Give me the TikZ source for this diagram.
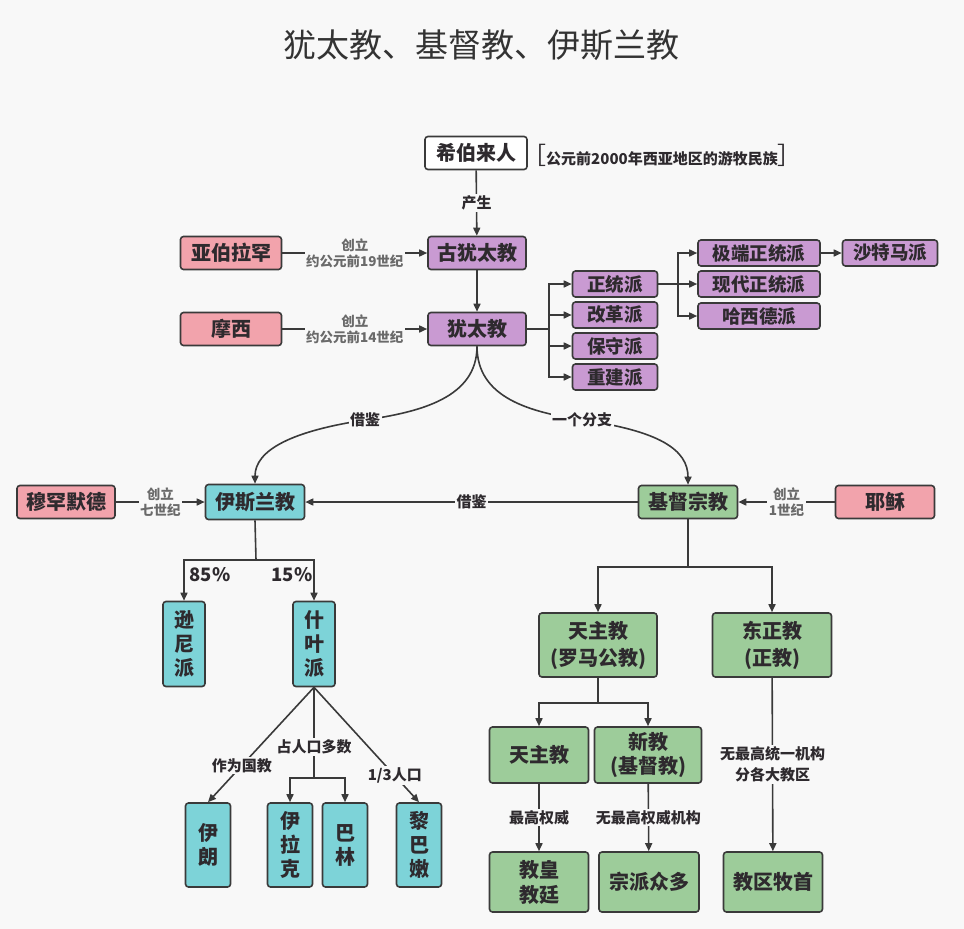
\documentclass[tikz,border=0pt]{standalone}
\usepackage{fontspec}
\setmainfont{Noto Sans CJK SC}
\usetikzlibrary{arrows.meta}
\definecolor{bg}{HTML}{F8F8F8}
\definecolor{pur}{HTML}{C99AD2}
\definecolor{pinkc}{HTML}{F2A3AC}
\definecolor{tealc}{HTML}{7DD3D8}
\definecolor{grn}{HTML}{9DCC9A}
\definecolor{edgec}{HTML}{3A3A3A}
\definecolor{txt}{HTML}{2E2A2E}
\definecolor{lbl}{HTML}{6A6A6A}
\tikzset{
  box/.style={draw=edgec, line width=1.6pt, rounded corners=3pt, text=txt, inner sep=0pt, align=center,
    font=\bfseries\fontsize{20}{24}\selectfont},
  sbox/.style={box, font=\bfseries\fontsize{18.5}{20}\selectfont, minimum height=26pt},
  vbox/.style={box, font=\bfseries\fontsize{20}{24}\selectfont},
  line/.style={draw=edgec, line width=1.6pt},
  conn/.style={line, -{Triangle[length=8pt,width=7pt]}},
  elab/.style={fill=bg, text=txt, inner sep=1.5pt, font=\bfseries\fontsize{15}{17}\selectfont, align=center},
  glab/.style={fill=bg, text=lbl, inner sep=1.5pt, font=\bfseries\fontsize{13.5}{16}\selectfont, align=center},
  pct/.style={text=txt, inner sep=0pt, font=\bfseries\fontsize{18.5}{20}\selectfont}
}
\begin{document}
\begin{tikzpicture}[x=1pt,y=-1pt]
\fill[bg] (0,0) rectangle (964,929);
\useasboundingbox (0,0) rectangle (964,929);

\node[text=black!80, font=\fontsize{33}{36}\selectfont] (title) at (481,45) {犹太教、基督教、伊斯兰教};

% Judaism part
\node[box, fill=white, minimum width=102pt, minimum height=33pt] (heb) at (476,153) {希伯来人};
\node[text=txt, inner sep=0pt, font=\bfseries\fontsize{15}{17}\selectfont] (note) at (662,155) {{\mdseries\fontsize{24}{24}\selectfont［}公元前2000年西亚地区的游牧民族{\mdseries\fontsize{24}{24}\selectfont］}};
\node[box, fill=pur, minimum width=98pt, minimum height=33pt] (gu) at (477,253) {古犹太教};
\node[box, fill=pur, minimum width=98pt, minimum height=33pt] (ju) at (477,329) {犹太教};
\node[box, fill=pinkc, minimum width=101pt, minimum height=33pt] (abr) at (231,253) {亚伯拉罕};
\node[box, fill=pinkc, minimum width=101pt, minimum height=33pt] (mos) at (231,329) {摩西};

\node[sbox, fill=pur, minimum width=85pt] (zt) at (615,284) {正统派};
\node[sbox, fill=pur, minimum width=85pt] (gg) at (615,315) {改革派};
\node[sbox, fill=pur, minimum width=85pt] (bs) at (615,346) {保守派};
\node[sbox, fill=pur, minimum width=85pt] (cj) at (615,377) {重建派};
\node[sbox, fill=pur, minimum width=122pt] (jd) at (759,253) {极端正统派};
\node[sbox, fill=pur, minimum width=122pt] (xd) at (759,284) {现代正统派};
\node[sbox, fill=pur, minimum width=122pt] (hx) at (759,316) {哈西德派};
\node[sbox, fill=pur, minimum width=95pt] (st) at (890,253) {沙特马派};

\draw[conn] (heb) -- node[elab]{产生} (gu);
\draw[conn] (abr) -- node[glab]{创立\\约公元前19世纪} (gu);
\draw[conn] (gu) -- (ju);
\draw[conn] (mos) -- node[glab]{创立\\约公元前14世纪} (ju);

\coordinate (b1) at (549,329);
\draw[line] (ju.east) -- (b1);
\draw[conn] (b1) |- (zt.west);
\draw[conn] (b1) |- (gg.west);
\draw[conn] (b1) |- (bs.west);
\draw[conn] (b1) |- (cj.west);
\coordinate (b2) at (678,284);
\draw[line] (zt.east) -- (b2);
\draw[conn] (b2) |- (jd.west);
\draw[conn] (b2) -- (xd.west);
\draw[conn] (b2) |- (hx.west);
\draw[conn] (jd) -- (st);

% Islam and Christianity
\node[box, fill=tealc, minimum width=99pt, minimum height=35pt] (isl) at (255,502) {伊斯兰教};
\node[box, fill=pinkc, minimum width=98pt, minimum height=33pt] (muh) at (66,502) {穆罕默德};
\node[box, fill=grn, minimum width=99pt, minimum height=33pt] (jdz) at (688,502) {基督宗教};
\node[box, fill=pinkc, minimum width=99pt, minimum height=33pt] (jes) at (885,502) {耶稣};

\draw[conn] (ju.south) .. controls (477,398) and (420,412) .. (365,420) node[elab]{借鉴}
  .. controls (292,431) and (255,450) .. (isl.north);
\draw[conn] (ju.south) .. controls (477,398) and (530,412) .. (582,420) node[elab]{一个分支}
  .. controls (660,431) and (688,450) .. (jdz.north);

\draw[conn] (muh) -- node[glab]{创立\\七世纪} (isl);
\draw[conn] (jes) -- node[glab]{创立\\1世纪} (jdz);
\draw[conn] (jdz) -- node[elab]{借鉴} (isl);

% Islam branches
\node[vbox, fill=tealc, minimum width=42pt, minimum height=85pt] (sun) at (184,644) {逊\\尼\\派};
\node[vbox, fill=tealc, minimum width=42pt, minimum height=85pt] (shi) at (314,644) {什\\叶\\派};
\coordinate (ib) at (256,560);
\draw[line] (isl.south) -- (ib);
\draw[conn] (ib) -| (sun.north);
\draw[conn] (ib) -| (shi.north);
\node[pct] (p85) at (210,575) {85\%};
\node[pct] (p15) at (292,575) {15\%};

\node[vbox, fill=tealc, minimum width=45pt, minimum height=84pt] (irn) at (208,845) {伊\\朗};
\node[vbox, fill=tealc, minimum width=45pt, minimum height=84pt] (irq) at (290,845) {伊\\拉\\克};
\node[vbox, fill=tealc, minimum width=45pt, minimum height=84pt] (bah) at (345,845) {巴\\林};
\node[vbox, fill=tealc, minimum width=45pt, minimum height=84pt] (leb) at (419,845) {黎\\巴\\嫩};

\draw[conn] (shi.south) -- node[elab, pos=0.68]{作为国教} (irn.north);
\draw[conn] (shi.south) -- node[elab, pos=0.77]{1/3人口} (leb.north);
\coordinate (sb) at (314,778);
\draw[line] (shi.south) -- node[elab, pos=0.66]{占人口多数} (sb);
\draw[conn] (sb) -| (irq.north);
\draw[conn] (sb) -| (bah.north);

% Christianity branches
\node[box, fill=grn, minimum width=118pt, minimum height=64pt, font=\bfseries\fontsize{20}{27}\selectfont] (cath) at (598,645) {天主教\\(罗马公教)};
\node[box, fill=grn, minimum width=119pt, minimum height=64pt, font=\bfseries\fontsize{20}{27}\selectfont] (orth) at (772,645) {东正教\\(正教)};
\coordinate (cb) at (688,567);
\draw[line] (jdz.south) -- (cb);
\draw[conn] (cb) -| (cath.north);
\draw[conn] (cb) -| (orth.north);

\node[box, fill=grn, minimum width=99pt, minimum height=56pt] (cat2) at (539,755) {天主教};
\node[box, fill=grn, minimum width=107pt, minimum height=56pt, font=\bfseries\fontsize{20}{24}\selectfont] (prot) at (648,755) {新教\\(基督教)};
\coordinate (cb2) at (598,703);
\draw[line] (cath.south) -- (cb2);
\draw[conn] (cb2) -| (cat2.north);
\draw[conn] (cb2) -| (prot.north);

\node[box, fill=grn, minimum width=99pt, minimum height=60pt, font=\bfseries\fontsize{20}{25}\selectfont] (pope) at (539,882) {教皇\\教廷};
\node[box, fill=grn, minimum width=100pt, minimum height=60pt] (sect) at (649,882) {宗派众多};
\node[box, fill=grn, minimum width=99pt, minimum height=60pt] (patr) at (773,882) {教区牧首};

\draw[conn] (cat2) -- node[elab]{最高权威} (pope);
\draw[conn] (prot) -- node[elab]{无最高权威机构} (sect);
\draw[conn] (orth) -- node[elab, font=\bfseries\fontsize{15}{21}\selectfont]{无最高统一机构\\分各大教区} (patr);
\end{tikzpicture}
\end{document}
